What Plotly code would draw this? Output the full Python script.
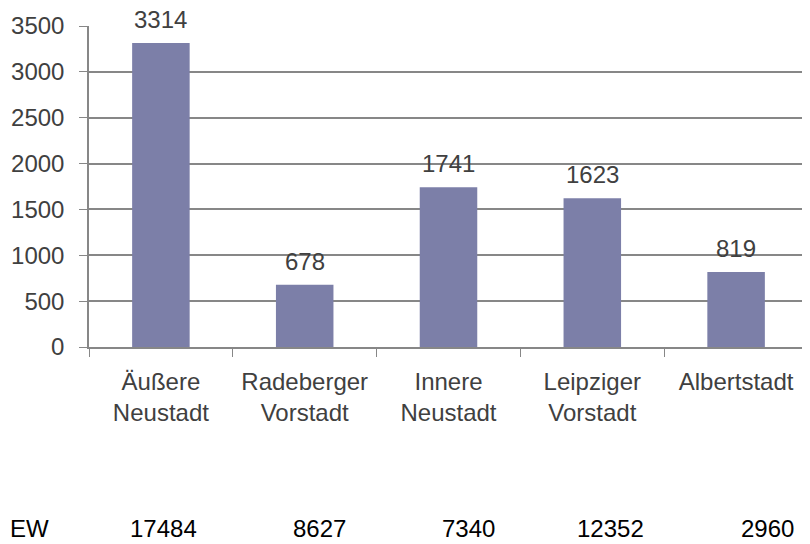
import plotly.graph_objects as go

stadtteile = ["Äußere<br>Neustadt", "Radeberger<br>Vorstadt", "Innere<br>Neustadt",
              "Leipziger<br>Vorstadt", "Albertstadt"]
werte = [3314, 678, 1741, 1623, 819]
ew_label = "EW"
ew_werte = [17484, 8627, 7340, 12352, 2960]
ew_x = [0.103, 0.321, 0.528, 0.726, 0.944]  # paper positions of the EW row

bar_color = "#7C7FA8"
grid_color = "#878787"
text_color = "#404040"
fs = 24

fig = go.Figure(go.Bar(
    x=stadtteile, y=werte,
    marker=dict(color=bar_color, line=dict(width=0)),
    width=0.4,
))

# value labels above the bars
for cat, v in zip(stadtteile, werte):
    fig.add_annotation(x=cat, y=v, text=str(v), showarrow=False,
                       yanchor="bottom", yshift=8,
                       font=dict(size=fs, color=text_color))

# EW row below the chart
ew_y = -0.565
fig.add_annotation(x=-0.113, y=ew_y, xref="paper", yref="paper", xanchor="left",
                   yanchor="middle", text=ew_label, showarrow=False,
                   font=dict(size=fs, color="black"))
for px, v in zip(ew_x, ew_werte):
    fig.add_annotation(x=px, y=ew_y, xref="paper", yref="paper", xanchor="center",
                       yanchor="middle", text=str(v), showarrow=False,
                       font=dict(size=fs, color="black"))

fig.update_xaxes(
    showline=True, linecolor=grid_color, linewidth=1.5,
    ticks="outside", tickson="boundaries", ticklen=8, tickcolor=grid_color,
    tickfont=dict(size=fs, color=text_color), ticklabelstandoff=12,
    showgrid=False, automargin=False,
)
fig.update_yaxes(
    range=[0, 3500], dtick=500,
    showline=True, linecolor=grid_color, linewidth=1.5,
    ticks="outside", ticklen=8, tickcolor=grid_color,
    showgrid=True, gridcolor=grid_color, gridwidth=1.5,
    tickfont=dict(size=fs, color=text_color), ticklabelstandoff=10,
    zeroline=False, automargin=False,
)

# page body has an 8px margin, so the figure starts at (8, 8)
fig.update_layout(
    width=810, height=544,
    margin=dict(l=81, r=10, t=18, b=205),
    plot_bgcolor="white", paper_bgcolor="white",
    font=dict(family="Liberation Sans, Arial, sans-serif", color=text_color),
    showlegend=False,
    bargap=0.6,
)

fig.write_html("out.html")
